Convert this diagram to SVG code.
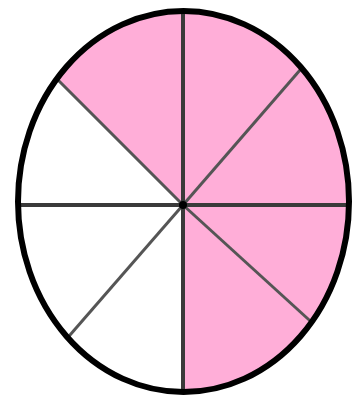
<svg xmlns="http://www.w3.org/2000/svg" width="352" height="397" viewBox="0 0 352 397">
  <style>
    .spoke { stroke: #3a3a3a; stroke-width: 4; fill: none; }
    .diag { stroke: #555; stroke-width: 3; fill: none; }
  </style>
  <defs>
    <clipPath id="oval">
      <ellipse cx="183.5" cy="201.5" rx="165.5" ry="190.5"/>
    </clipPath>
  </defs>
  <rect width="352" height="397" fill="#ffffff"/>
  <g id="fill" clip-path="url(#oval)">
    <ellipse cx="183.5" cy="201.5" rx="165.5" ry="190.5" fill="#ffffff"/>
    <polygon points="183,205 0,22 0,0 352,0 352,397 183,397" fill="#ffaed8"/>
  </g>
  <g id="spokes" clip-path="url(#oval)">
    <line class="spoke" x1="183" y1="0" x2="183" y2="397"/>
    <line class="spoke" x1="0" y1="205" x2="352" y2="205"/>
    <line class="diag" x1="183" y1="205" x2="40" y2="62"/>
    <line class="diag" x1="183" y1="205" x2="320" y2="47"/>
    <line class="diag" x1="183" y1="205" x2="330" y2="339"/>
    <line class="diag" x1="183" y1="205" x2="50" y2="358"/>
  </g>
  <circle cx="183" cy="205" r="4" fill="#000"/>
  <g id="outline">
    <ellipse cx="183.5" cy="201.5" rx="165.5" ry="190.5" fill="none" stroke="#000" stroke-width="6"/>
  </g>
</svg>
